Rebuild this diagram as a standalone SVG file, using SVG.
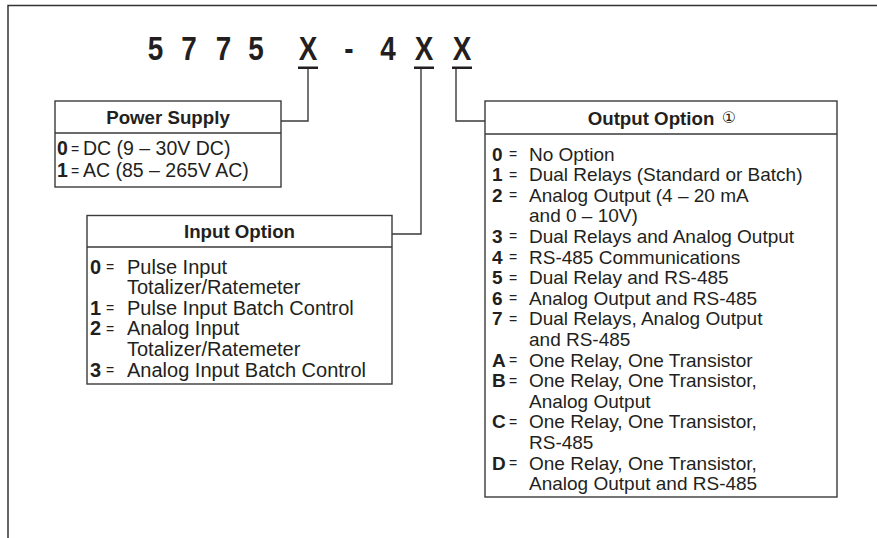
<svg xmlns="http://www.w3.org/2000/svg" width="877" height="538" viewBox="0 0 877 538">
<style>
.frame{fill:none;stroke:#333;stroke-width:1.5}
.box{fill:#fff;stroke:#3a3a3a;stroke-width:1.4}
.sep{stroke:#3a3a3a;stroke-width:1.4}
.conn{fill:none;stroke:#3a3a3a;stroke-width:1.4}
.t{font-family:"Liberation Sans",Arial,sans-serif;fill:#231f20}
.ps{font-size:19.5px}
.in{font-size:20px}
.out{font-size:19px}
.b{font-weight:bold}
.eq{font-family:"Liberation Sans",Arial,sans-serif;font-size:14px;fill:#231f20}
.h{font-family:"Liberation Sans",Arial,sans-serif;font-size:18.7px;font-weight:bold;fill:#231f20;text-anchor:middle}
.big{font-family:"Liberation Sans",Arial,sans-serif;font-size:34px;font-weight:bold;fill:#231f20;text-anchor:middle}
.ul{fill:#231f20}
</style>
<rect width="877" height="538" fill="#fff"/>
<path class="frame" d="M8,538 V5.5 H877"/>
<g id="model-code">
<text class="big" transform="translate(155.5,60) scale(0.82,1)">5</text>
<text class="big" transform="translate(189,60) scale(0.82,1)">7</text>
<text class="big" transform="translate(223.5,60) scale(0.82,1)">7</text>
<text class="big" transform="translate(256,60) scale(0.82,1)">5</text>
<text class="big" transform="translate(308,60) scale(0.82,1)">X</text>
<text class="big" transform="translate(349,60) scale(0.82,1)">-</text>
<text class="big" transform="translate(388,60) scale(0.82,1)">4</text>
<text class="big" transform="translate(424,60) scale(0.82,1)">X</text>
<text class="big" transform="translate(462,60) scale(0.82,1)">X</text>
<rect class="ul" x="298" y="66.5" width="20" height="2.5"/>
<rect class="ul" x="414" y="66.5" width="20" height="2.5"/>
<rect class="ul" x="452" y="66.5" width="20" height="2.5"/>
</g>
<g id="connectors">
<path class="conn" d="M308,69 V121 H281"/>
<path class="conn" d="M421,69 V234 H392"/>
<path class="conn" d="M456,69 V121 H485"/>
</g>
<g id="power-supply">
<rect class="box" x="55" y="101" width="226" height="86"/>
<line class="sep" x1="55" y1="133" x2="281" y2="133"/>
<text class="h" x="168" y="124">Power Supply</text>
<text class="t ps b" x="57" y="155">0</text><text class="eq" x="71" y="153.5">=</text><text class="t ps" x="83" y="155">DC (9 – 30V DC)</text>
<text class="t ps b" x="57" y="177">1</text><text class="eq" x="71" y="175.5">=</text><text class="t ps" x="83" y="177">AC (85 – 265V AC)</text>
</g>
<g id="input-option">
<rect class="box" x="87" y="215.5" width="305" height="168.5"/>
<line class="sep" x1="87" y1="247" x2="392" y2="247"/>
<text class="h" x="239.5" y="238">Input Option</text>
<text class="t in b" x="90" y="273.5">0</text><text class="eq" x="106" y="272">=</text><text class="t in" x="127" y="273.5">Pulse Input</text>
<text class="t in" x="127" y="294.1">Totalizer/Ratemeter</text>
<text class="t in b" x="90" y="314.7">1</text><text class="eq" x="106" y="313.2">=</text><text class="t in" x="127" y="314.7">Pulse Input Batch Control</text>
<text class="t in b" x="90" y="335.3">2</text><text class="eq" x="106" y="333.8">=</text><text class="t in" x="127" y="335.3">Analog Input</text>
<text class="t in" x="127" y="355.9">Totalizer/Ratemeter</text>
<text class="t in b" x="90" y="376.5">3</text><text class="eq" x="106" y="375">=</text><text class="t in" x="127" y="376.5">Analog Input Batch Control</text>
</g>
<g id="output-option">
<rect class="box" x="485" y="101" width="352" height="396"/>
<line class="sep" x1="485" y1="134" x2="837" y2="134"/>
<text class="h" x="651" y="124.5">Output Option</text>
<text x="729" y="123" font-family="'DejaVu Sans',sans-serif" font-size="16" fill="#231f20" text-anchor="middle">①</text>
<text class="t out b" x="492" y="160.5">0</text><text class="eq" x="509" y="159">=</text><text class="t out" x="529" y="160.5">No Option</text>
<text class="t out b" x="492" y="181.1">1</text><text class="eq" x="509" y="179.6">=</text><text class="t out" x="529" y="181.1">Dual Relays (Standard or Batch)</text>
<text class="t out b" x="492" y="201.7">2</text><text class="eq" x="509" y="200.2">=</text><text class="t out" x="529" y="201.7">Analog Output (4 – 20 mA</text>
<text class="t out" x="529" y="222.3">and 0 – 10V)</text>
<text class="t out b" x="492" y="242.9">3</text><text class="eq" x="509" y="241.4">=</text><text class="t out" x="529" y="242.9">Dual Relays and Analog Output</text>
<text class="t out b" x="492" y="263.5">4</text><text class="eq" x="509" y="262">=</text><text class="t out" x="529" y="263.5">RS-485 Communications</text>
<text class="t out b" x="492" y="284.1">5</text><text class="eq" x="509" y="282.6">=</text><text class="t out" x="529" y="284.1">Dual Relay and RS-485</text>
<text class="t out b" x="492" y="304.7">6</text><text class="eq" x="509" y="303.2">=</text><text class="t out" x="529" y="304.7">Analog Output and RS-485</text>
<text class="t out b" x="492" y="325.3">7</text><text class="eq" x="509" y="323.8">=</text><text class="t out" x="529" y="325.3">Dual Relays, Analog Output</text>
<text class="t out" x="529" y="345.9">and RS-485</text>
<text class="t out b" x="492" y="366.5">A</text><text class="eq" x="509" y="365">=</text><text class="t out" x="529" y="366.5">One Relay, One Transistor</text>
<text class="t out b" x="492" y="387.1">B</text><text class="eq" x="509" y="385.6">=</text><text class="t out" x="529" y="387.1">One Relay, One Transistor,</text>
<text class="t out" x="529" y="407.7">Analog Output</text>
<text class="t out b" x="492" y="428.3">C</text><text class="eq" x="509" y="426.8">=</text><text class="t out" x="529" y="428.3">One Relay, One Transistor,</text>
<text class="t out" x="529" y="448.9">RS-485</text>
<text class="t out b" x="492" y="469.5">D</text><text class="eq" x="509" y="468">=</text><text class="t out" x="529" y="469.5">One Relay, One Transistor,</text>
<text class="t out" x="529" y="490.1">Analog Output and RS-485</text>
</g>
</svg>
